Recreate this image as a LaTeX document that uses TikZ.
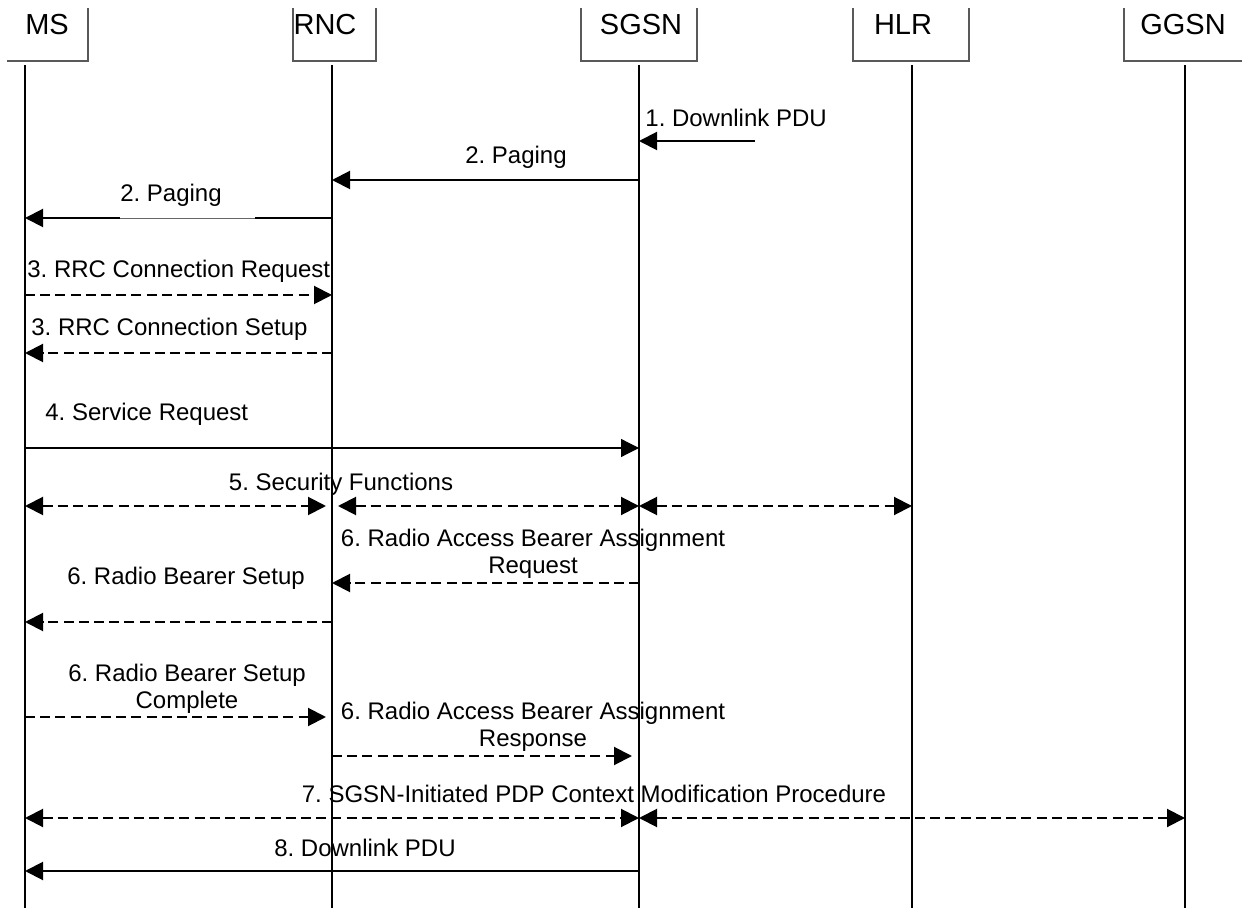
\documentclass[tikz,border=0pt]{standalone}
\usepackage{fontspec}
\setmainfont{Liberation Sans}
\usetikzlibrary{arrows.meta}
\frenchspacing

\begin{document}
\begin{tikzpicture}[x=0.5pt,y=-0.5pt,>={Triangle[length=9pt,width=9pt]},
  life/.style={line width=1pt},
  hdr/.style={draw=black!65,line width=0.6pt},
  hlbl/.style={inner sep=0pt,font=\fontsize{14.5}{16}\selectfont},
  msg/.style={line width=1pt,->},
  thinmsg/.style={line width=0.6pt,->},
  dmsg/.style={line width=1pt,dash pattern=on 5pt off 2.6pt,->},
  ddmsg/.style={line width=1pt,dash pattern=on 5pt off 2.6pt,<->},
  lbl/.style={inner sep=0pt,font=\fontsize{12}{13.5}\selectfont,align=center}]
  \useasboundingbox (0,0) rectangle (1242,908);
  % Header boxes (top cut off)
  \draw[hdr] (7,61) -- (88,61) -- (88,8);
  \draw[hdr] (293,8) -- (293,61) -- (376,61) -- (376,8);
  \draw[hdr] (581,8) -- (581,61) -- (697,61) -- (697,8);
  \draw[hdr] (853,8) -- (853,61) -- (969,61) -- (969,8);
  \draw[hdr] (1124,8) -- (1124,61) -- (1242,61);
  \node[hlbl] (hms) at (47,25) {MS};
  \node[hlbl] (hrnc) at (325,25) {RNC};
  \node[hlbl] (hsgsn) at (641,25) {SGSN};
  \node[hlbl] (hhlr) at (903,25) {HLR};
  \node[hlbl] (hggsn) at (1183,25) {GGSN};
  % Lifelines
  \foreach \n/\x in {ms/25,rnc/332,sgsn/639,hlr/912,ggsn/1185}
  {\coordinate (\n) at (\x,65); \draw[life] (\n) -- (\x,908);}
  % Message rows
  \foreach \r/\y in {r1/141,r2/180,r3/218,r4/295,r5/353,r6/448,r7/506,r8/583,r9/622,r10/717,r11/756,r12/818,r13/871}
  {\coordinate (\r) at (0,\y);}
  \coordinate (dl) at (755,141);
  % 1-2
  \draw[msg] (dl) -- (sgsn|-r1);
  \node[lbl,anchor=west] (l1) at (645,118) {1. Downlink PDU};
  \draw[msg] (sgsn|-r2) -- (rnc|-r2);
  \node[lbl] (l2a) at (516,157) {2. Paging};
  \draw[msg] (rnc|-r3) -- (ms|-r3);
  \draw[white,line width=1pt] (120,218) -- (255,218);
  \draw[black!60,line width=0.4pt] (120,218) -- (255,218);
  \node[lbl] (l2b) at (171,195) {2. Paging};
  % 3 RRC
  \draw[dmsg] (ms|-r4) -- (rnc|-r4);
  \node[lbl,anchor=west] (l3a) at (27,271) {3. RRC Connection Request};
  \draw[dmsg] (rnc|-r5) -- (ms|-r5);
  \node[lbl,anchor=west] (l3b) at (31,329) {3. RRC Connection Setup};
  % 4 Service Request
  \draw[thinmsg] (ms|-r6) -- (sgsn|-r6);
  \node[lbl,anchor=west] (l4) at (45,414) {4. Service Request};
  % 5 Security
  \draw[ddmsg,shorten >=3pt] (ms|-r7) -- (rnc|-r7);
  \draw[ddmsg,shorten <=3pt] (rnc|-r7) -- (sgsn|-r7);
  \draw[ddmsg] (sgsn|-r7) -- (hlr|-r7);
  \node[lbl] (l5) at (341,484) {5. Security Functions};
  % 6 Radio bearer
  \draw[dmsg] (sgsn|-r8) -- (rnc|-r8);
  \node[lbl] (l6a) at (533,554) {6. Radio Access Bearer Assignment\\Request};
  \draw[dmsg] (rnc|-r9) -- (ms|-r9);
  \node[lbl] (l6b) at (186,578) {6. Radio Bearer Setup};
  \draw[dmsg,shorten >=3pt] (ms|-r10) -- (rnc|-r10);
  \node[lbl] (l6c) at (187,689) {6. Radio Bearer Setup\\Complete};
  \draw[dmsg,shorten >=3.5pt] (rnc|-r11) -- (sgsn|-r11);
  \node[lbl] (l6d) at (533,727) {6. Radio Access Bearer Assignment\\Response};
  % 7-8
  \draw[ddmsg] (ms|-r12) -- (sgsn|-r12);
  \draw[ddmsg] (sgsn|-r12) -- (ggsn|-r12);
  \node[lbl] (l7) at (594,794) {7. SGSN-Initiated PDP Context Modification Procedure};
  \draw[msg] (sgsn|-r13) -- (ms|-r13);
  \node[lbl] (l8) at (365,848) {8. Downlink PDU};
\end{tikzpicture}
\end{document}
